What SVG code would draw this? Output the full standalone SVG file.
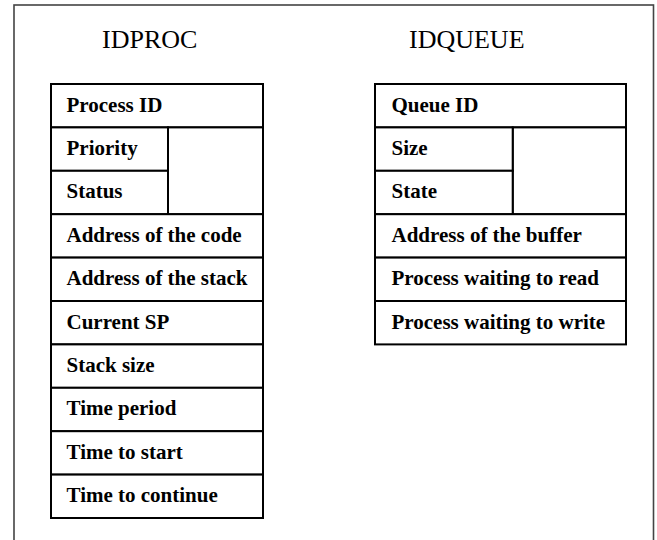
<svg xmlns="http://www.w3.org/2000/svg" width="657" height="540" viewBox="0 0 657 540">
<style>
.cell{fill:#fff;stroke:#000;stroke-width:2}
.lbl{font-family:"Liberation Serif","Times New Roman",serif;font-weight:bold;font-size:21px;fill:#000}
.ttl{font-family:"Liberation Serif","Times New Roman",serif;font-size:26px;fill:#000}
</style>
<rect width="657" height="540" fill="#fff"/>
<rect x="14" y="5" width="639.5" height="545" fill="none" stroke="#444" stroke-width="1.6"/>
<g id="idproc">
<text class="ttl" x="102" y="48">IDPROC</text>
<rect class="cell" x="51" y="84" width="212" height="43.4"/>
<text class="lbl" x="66.5" y="111.5">Process ID</text>
<rect class="cell" x="168" y="127.4" width="95" height="86.8"/>
<rect class="cell" x="51" y="127.4" width="117" height="43.4"/>
<text class="lbl" x="66.5" y="154.9">Priority</text>
<rect class="cell" x="51" y="170.8" width="117" height="43.4"/>
<text class="lbl" x="66.5" y="198.3">Status</text>
<rect class="cell" x="51" y="214.2" width="212" height="43.4"/>
<text class="lbl" x="66.5" y="241.7">Address of the code</text>
<rect class="cell" x="51" y="257.6" width="212" height="43.4"/>
<text class="lbl" x="66.5" y="285.1">Address of the stack</text>
<rect class="cell" x="51" y="301" width="212" height="43.4"/>
<text class="lbl" x="66.5" y="328.5">Current SP</text>
<rect class="cell" x="51" y="344.4" width="212" height="43.4"/>
<text class="lbl" x="66.5" y="371.9">Stack size</text>
<rect class="cell" x="51" y="387.8" width="212" height="43.4"/>
<text class="lbl" x="66.5" y="415.3">Time period</text>
<rect class="cell" x="51" y="431.2" width="212" height="43.4"/>
<text class="lbl" x="66.5" y="458.7">Time to start</text>
<rect class="cell" x="51" y="474.6" width="212" height="43.4"/>
<text class="lbl" x="66.5" y="502.1">Time to continue</text>
</g>
<g id="idqueue">
<text class="ttl" x="409" y="48">IDQUEUE</text>
<rect class="cell" x="375" y="84" width="251" height="43.4"/>
<text class="lbl" x="391.5" y="111.5">Queue ID</text>
<rect class="cell" x="512.7" y="127.4" width="113.3" height="86.8"/>
<rect class="cell" x="375" y="127.4" width="137.7" height="43.4"/>
<text class="lbl" x="391.5" y="154.9">Size</text>
<rect class="cell" x="375" y="170.8" width="137.7" height="43.4"/>
<text class="lbl" x="391.5" y="198.3">State</text>
<rect class="cell" x="375" y="214.2" width="251" height="43.4"/>
<text class="lbl" x="391.5" y="241.7">Address of the buffer</text>
<rect class="cell" x="375" y="257.6" width="251" height="43.4"/>
<text class="lbl" x="391.5" y="285.1">Process waiting to read</text>
<rect class="cell" x="375" y="301" width="251" height="43.4"/>
<text class="lbl" x="391.5" y="328.5">Process waiting to write</text>
</g>
<g id="connectors"/>
</svg>
